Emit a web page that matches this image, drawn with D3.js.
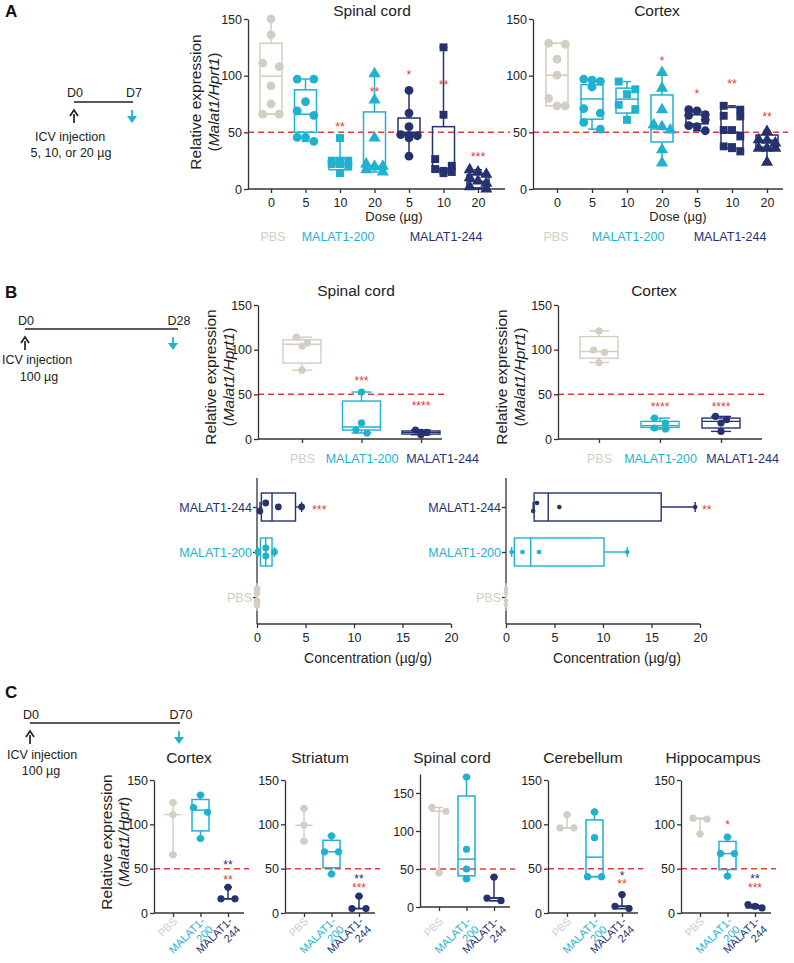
<!DOCTYPE html>
<html>
<head>
<meta charset="utf-8">
<script src="https://cdn.jsdelivr.net/npm/d3@7"></script>
<style>
  body { margin: 0; background: #fff; }
  svg { font-family: "Liberation Sans", Arial, sans-serif; }
</style>
</head>
<body>
<svg id="fig" width="794" height="963"></svg>
<script>
const C_PBS = '#d3cdc2';
const C_200 = '#1eb2cf';
const C_244 = '#263170';
const C_RED = '#e23d36';
const C_AX = '#333';
const FONT = '"Liberation Sans", Arial, sans-serif';

// ---- panel A: 7 days, dose response
const aGroups = ['PBS', 'MALAT1-200', 'MALAT1-200', 'MALAT1-200', 'MALAT1-244', 'MALAT1-244', 'MALAT1-244'];
const aDoses = ['0', '5', '10', '20', '5', '10', '20'];
const aShapes = ['circle', 'circle', 'square', 'triangle', 'circle', 'square', 'triangle'];

const aSpinalPts = [
  [150, 136, 111, 108, 91, 75, 66, 66],
  [97, 97, 77, 69, 65, 45.5, 45.5, 42],
  [45, 25, 25, 25, 22, 22, 20, 14],
  [101.6, 78.5, 45, 22, 20, 20, 17, 15],
  [87, 67, 55, 48, 47, 47, 45, 29],
  [125, 65.5, 26.4, 20.5, 17.6, 16, 15, 14],
  [17, 15, 13, 10, 7, 5, 2, 0],
];
const aSpinalBox = [
  [66, 66, 99.5, 128.6, 150],
  [42, 50, 66, 87.5, 97],
  [14, 17, 22, 27, 45],
  [15, 17, 20, 68, 101.6],
  [29, 49.4, 50, 62.6, 87],
  [14, 16, 18, 55, 125],
  [0, 1, 6.7, 12.6, 17],
];
const aSpinalStars = ['', '', '**', '**', '*', '**', '***'];
const aSpinalStarY = [0, 0, 58, 89, 104, 95, 31];

const aCortexPts = [
  [128.6, 127.7, 114.5, 100.4, 80, 73.4, 73.4],
  [97, 96, 95, 90, 71, 67, 58.7, 52.8],
  [94.8, 88, 83.7, 74.3, 70.5, 61],
  [102.7, 89, 70, 56.6, 55, 52, 34.6, 23],
  [70, 69, 65.5, 65, 61, 56, 55, 51.4],
  [73.4, 70, 64.6, 64, 52, 52, 46.4, 37.6, 37, 33.2],
  [50.8, 43.4, 43, 40.5, 36, 36, 36, 23.5],
];
const aCortexBox = [
  [73.4, 73.4, 100.4, 128.6, 128.6],
  [52.8, 61.6, 79.5, 92, 97],
  [61, 67, 79.3, 89, 94.8],
  [23, 41.5, 53, 83, 102.7],
  [51.4, 57.5, 65.5, 68, 70],
  [33.2, 36, 50, 72, 73.4],
  [23.5, 37, 43, 47.6, 50.8],
];
const aCortexStars = ['', '', '', '*', '*', '**', '**'];
const aCortexStarY = [0, 0, 0, 116, 87, 96, 67];

// ---- panel B: 28 days, 100 ug
const bGroups = ['PBS', 'MALAT1-200', 'MALAT1-244'];
const bSpinalPts = [[114, 107.5, 104, 77], [52.6, 18, 10, 6.7], [10, 7.4, 7.4, 4.8]];
const bSpinalBox = [[77, 85, 106, 111, 114], [6.7, 10, 13.4, 42.5, 52.6], [4.8, 5.5, 7.4, 9, 10]];
const bSpinalStars = ['', '***', '****'];
const bSpinalStarY = [0, 69, 41];
const bCortexPts = [[121, 99.6, 97, 85.6], [23.4, 17.8, 12.3, 11.2], [25.3, 21.6, 17.8, 8.5]];
const bCortexBox = [[85.6, 90.4, 97.9, 114.6, 121], [11.2, 13, 15, 19.7, 23.4], [8.5, 12.3, 19.7, 23.4, 25.3]];
const bCortexStars = ['', '****', '****'];
const bCortexStarY = [0, 39, 39];

const concCats = ['MALAT1-244', 'MALAT1-200', 'PBS'];
const concTicks = [0, 5, 10, 15, 20];
const concSpinalPts = [[0.3, 0.9, 2.2, 4.6], [0.1, 0.9, 0.9, 1.8], [0, 0, 0, 0]];
const concSpinalBox = [[0.3, 0.45, 1.55, 3.97, 4.6], [0.1, 0.35, 0.9, 1.55, 1.8], [0, 0, 0, 0, 0]];
const concCortexPts = [[2.8, 3.2, 5.5, 19.5], [0.58, 1.7, 3.4, 12.5], [0, 0, 0, 0]];
const concCortexBox = [[2.8, 2.9, 4.35, 16, 19.5], [0.58, 0.86, 2.55, 10.1, 12.5], [0, 0, 0, 0, 0]];
const concStars = ['***', '**'];

// ---- panel C: 70 days, 100 ug
const cRegions = ['Cortex', 'Striatum', 'Spinal cord', 'Cerebellum', 'Hippocampus'];
const cYMax = [150, 150, 175, 150, 150];
const cPts = [
  [[124.5, 111, 65.6], [133, 119, 113.6, 84], [29, 16, 16]],
  [[118, 99, 81], [87, 69, 69, 44], [19, 5, 5]],
  [[131, 126, 45], [171, 76, 50, 37], [39.5, 11.8, 8.3]],
  [[111, 96, 96], [114, 85, 41, 41], [20.8, 7.6, 5]],
  [[107, 106, 89], [85.6, 67, 67, 41.7], [9.5, 7.6, 5.7]],
];
const cBox = [
  [[65.6, 111, 111, 111, 124.5], [84, 92.6, 116, 128, 133], [16, 16, 16, 16, 29]],
  [[81, 99, 99, 99, 118], [44, 51, 69, 82, 87], [5, 5, 5, 5, 19]],
  [[45, 126, 126, 126, 131], [37, 41, 63, 146, 171], [8.3, 8.3, 11.8, 11.8, 39.5]],
  [[96, 96, 96, 96, 111], [41, 41, 63, 105, 114], [5, 5, 7.6, 7.6, 20.8]],
  [[89, 106, 106, 106, 107], [41.7, 49, 67, 80.7, 85.6], [5.7, 5.7, 7.6, 7.6, 9.5]],
];
// [region, group, [text, value, colour] ...] - stacked marks share one label
const cStars = [
  [0, 2, [['**', 57.5, 'navy'], ['**', 40.6, 'red']]],
  [1, 2, [['**', 41.7, 'navy'], ['***', 31.6, 'red']]],
  [3, 2, [['*', 45, 'navy'], ['**', 36, 'red']]],
  [4, 1, [['*', 102.6, 'red']]],
  [4, 2, [['**', 41.7, 'navy'], ['***', 31.6, 'red']]],
];

const colorOf = g => g === 'PBS' ? C_PBS : g === 'MALAT1-200' ? C_200 : C_244;

const svg = d3.select('#fig');

function txt(g, x, y, s, o = {}) {
  const t = g.append('text').attr('x', x).attr('y', y).text(s)
    .attr('font-size', o.size || 12.5)
    .attr('fill', o.fill || '#222')
    .attr('text-anchor', o.anchor || 'middle');
  if (o.weight) t.attr('font-weight', o.weight);
  return t;
}

function yLabel(x1, x2, cy, gene) {
  svg.append('text').attr('transform', `translate(${x1},${cy}) rotate(-90)`)
    .attr('text-anchor', 'middle').attr('font-size', 15.5).attr('fill', '#222')
    .text('Relative expression');
  const t = svg.append('text').attr('transform', `translate(${x2},${cy}) rotate(-90)`)
    .attr('text-anchor', 'middle').attr('font-size', 15.5).attr('fill', '#222');
  t.append('tspan').text('(');
  t.append('tspan').attr('font-style', 'italic').text(gene);
  t.append('tspan').text(')');
}

function timeline(x0, x1, yLine, lbl0, lbl1, textY, cyanX, lines) {
  const g = svg.append('g');
  g.append('line').attr('x1', x0).attr('x2', x1).attr('y1', yLine).attr('y2', yLine)
    .attr('stroke', '#222').attr('stroke-width', 1.3);
  txt(g, x0 + 1, textY, lbl0);
  txt(g, x1 + 1, textY, lbl1);
  // injection arrow (up) and harvest arrow (down)
  const ay0 = yLine + 8, ay1 = yLine + 21;
  g.append('line').attr('x1', x0).attr('x2', x0).attr('y1', ay1).attr('y2', ay0 + 4)
    .attr('stroke', '#222').attr('stroke-width', 1.7);
  g.append('path').attr('d', `M${x0 - 4},${ay0 + 6}L${x0},${ay0}L${x0 + 4},${ay0 + 6}`)
    .attr('fill', 'none').attr('stroke', '#222').attr('stroke-width', 1.7);
  g.append('line').attr('x1', cyanX).attr('x2', cyanX).attr('y1', ay0).attr('y2', ay1 - 5)
    .attr('stroke', C_200).attr('stroke-width', 1.8);
  g.append('path').attr('d', `M${cyanX - 5},${ay1 - 7}L${cyanX},${ay1}L${cyanX + 5},${ay1 - 7}Z`)
    .attr('fill', C_200);
  lines.forEach(l => txt(g, l[0], l[1], l[2]));
}

function swarm(vals, sc, r, step, maxRow) {
  const idx = vals.map((v, i) => i).sort((a, b) => vals[b] - vals[a]);
  const offs = new Array(vals.length).fill(0);
  let row = [];
  const flush = () => {
    const n = row.length;
    row.forEach((i, j) => {
      let k;
      if (n % 2) k = j - (n - 1) / 2;
      else { const h = n / 2; k = j < h ? j - h : j - h + 1; }
      offs[i] = k * step;
    });
    row = [];
  };
  idx.forEach(i => {
    if (row.length && (row.length >= maxRow || Math.abs(sc(vals[i]) - sc(vals[row[0]])) > r * 1.8)) flush();
    row.push(i);
  });
  flush();
  return offs;
}

function symbolPath(shape, r) {
  if (shape === 'square') return d3.symbol(d3.symbolSquare, (1.8 * r) ** 2)();
  if (shape === 'triangle') return d3.symbol(d3.symbolTriangle, Math.PI * r * r * 1.05)();
  return d3.symbol(d3.symbolCircle, Math.PI * r * r)();
}

function drawGroup(g, o) {
  const P = (a, v) => o.horiz ? [o.sc(v), a] : [a, o.sc(v)];
  const [mn, q1, md, q3, mx] = o.box;
  const line = (a1, v1, a2, v2) => {
    const [x1, y1] = P(a1, v1), [x2, y2] = P(a2, v2);
    g.append('line').attr('x1', x1).attr('y1', y1).attr('x2', x2).attr('y2', y2)
      .attr('stroke', o.color).attr('stroke-width', o.lw);
  };
  line(o.pos, mx, o.pos, q3);
  line(o.pos, q1, o.pos, mn);
  line(o.pos - o.capW / 2, mx, o.pos + o.capW / 2, mx);
  line(o.pos - o.capW / 2, mn, o.pos + o.capW / 2, mn);
  if (q3 > q1) {
    const a = o.horiz
      ? { x: o.sc(q1), y: o.pos - o.w / 2, width: o.sc(q3) - o.sc(q1), height: o.w }
      : { x: o.pos - o.w / 2, y: o.sc(q3), width: o.w, height: o.sc(q1) - o.sc(q3) };
    g.append('rect').attr('x', a.x).attr('y', a.y).attr('width', a.width).attr('height', a.height)
      .attr('fill', 'none').attr('stroke', o.color).attr('stroke-width', o.lw);
  }
  line(o.pos - o.w / 2, md, o.pos + o.w / 2, md);
  const offs = swarm(o.pts, o.sc, o.r, o.step, o.maxRow);
  o.pts.forEach((v, i) => {
    const [px, py] = P(o.pos + offs[i], v);
    g.append('path').attr('d', symbolPath(o.shape, o.r))
      .attr('transform', `translate(${px},${py})`).attr('fill', o.color);
  });
}

function styleAxis(s) {
  s.attr('font-family', FONT).attr('font-size', 12.5);
  s.selectAll('text').attr('fill', '#222');
  s.selectAll('line,path').attr('stroke', C_AX).attr('stroke-width', 1.3);
}

function star(g, x, yPix, s, color, size = 12.5) {
  txt(g, x, yPix + size * 0.6, s, { fill: color, size });
}

// vertical box chart frame
function vChart(o) {
  const g = svg.append('g');
  const y = d3.scaleLinear().domain([0, o.yMax]).range([o.yZero, o.yZero - o.yMax * o.pxPer]);
  const x = d3.scalePoint().domain(d3.range(o.n)).range([o.xFirst, o.xLast]);
  g.append('line').attr('x1', o.axX).attr('x2', o.xEnd + 5).attr('y1', y(50)).attr('y2', y(50))
    .attr('stroke', C_RED).attr('stroke-width', 1.5).attr('stroke-dasharray', '6,4');
  g.append('g').attr('transform', `translate(${o.axX},0)`)
    .call(d3.axisLeft(y).tickValues([0, 50, 100, 150]).tickSize(4).tickSizeOuter(0).tickPadding(2))
    .call(styleAxis);
  const xa = g.append('g').attr('transform', `translate(0,${o.yZero})`)
    .call(d3.axisBottom(x).tickSize(4).tickPadding(o.tickPad || 5)
      .tickFormat(o.labels ? (i => o.labels[i]) : ''))
    .call(styleAxis);
  xa.select('.domain').remove();
  g.append('line').attr('x1', o.axX).attr('x2', o.xEnd).attr('y1', o.yZero).attr('y2', o.yZero)
    .attr('stroke', C_AX).attr('stroke-width', 1.3);
  if (o.labelColors) xa.selectAll('.tick text').attr('fill', (d, i) => o.labelColors[i]);
  return { g, x, y, xa };
}

// ---------- Panel A ----------
txt(svg, 5, 17, 'A', { anchor: 'start', size: 17, weight: 'bold', fill: '#111' });
timeline(74, 133, 102, 'D0', 'D7', 97, 132,
  [[70, 141, 'ICV injection'], [71, 157, '5, 10, or 20 \u00b5g']]);
yLabel(201, 219, 102, 'Malat1/Hprt1');

function panelA(axX, xFirst, xLast, xEnd, title, titleX, pts, box, stars, starY, legendX, doseX) {
  const c = vChart({ axX, xFirst, xLast, xEnd, yZero: 189, pxPer: 170 / 150, yMax: 150, n: 7, labels: aDoses });
  txt(svg, titleX, 16, title, { size: 15.5 });
  pts.forEach((p, i) => drawGroup(c.g, {
    pos: c.x(i), sc: c.y, box: box[i], pts: p, color: colorOf(aGroups[i]), shape: aShapes[i],
    r: 4.4, w: 22, capW: 8, lw: 1.5, step: 8.3, maxRow: 3,
  }));
  stars.forEach((s, i) => { if (s) star(c.g, c.x(i), c.y(starY[i]), s, C_RED); });
  txt(svg, doseX, 221, 'Dose (\u00b5g)', { size: 13 });
  bGroups.forEach((gname, i) => txt(svg, legendX[i], 241, gname, { fill: colorOf(gname), size: 12.5 }));
}
panelA(248, 271, 478, 505, 'Spinal cord', 372, aSpinalPts, aSpinalBox, aSpinalStars, aSpinalStarY, [273, 338, 446], 394);
panelA(533, 557, 767, 783, 'Cortex', 657, aCortexPts, aCortexBox, aCortexStars, aCortexStarY, [556, 628, 730], 678);

// ---------- Panel B ----------
txt(svg, 5, 298, 'B', { anchor: 'start', size: 17, weight: 'bold', fill: '#111' });
timeline(25, 178, 329, 'D0', 'D28', 325, 173,
  [[37, 364, 'ICV injection'], [39, 381, '100 \u00b5g']]);
yLabel(216, 234, 377, 'Malat1/Hprt1');
yLabel(507, 525, 377, 'Malat1/Hprt1');

function panelBTop(axX, xFirst, xLast, xEnd, title, titleX, pts, box, stars, starY) {
  const c = vChart({ axX, xFirst, xLast, xEnd, yZero: 439, pxPer: 134 / 150, yMax: 150, n: 3,
    labels: bGroups, labelColors: bGroups.map(colorOf), tickPad: 11 });
  // last label sits right of its tick, as in the source layout
  c.xa.selectAll('.tick text').attr('dx', (d, i) => i === 2 ? 21 : 0);
  txt(svg, titleX, 296, title, { size: 15.5 });
  pts.forEach((p, i) => drawGroup(c.g, {
    pos: c.x(i), sc: c.y, box: box[i], pts: p, color: colorOf(bGroups[i]), shape: 'circle',
    r: 3.6, w: 38, capW: 20, lw: 1.4, step: 5.5, maxRow: 3,
  }));
  stars.forEach((s, i) => { if (s) star(c.g, c.x(i), c.y(starY[i]), s, C_RED, 12); });
}
panelBTop(258, 302, 421, 442, 'Spinal cord', 356, bSpinalPts, bSpinalBox, bSpinalStars, bSpinalStarY);
panelBTop(558, 599, 721, 762, 'Cortex', 654, bCortexPts, bCortexBox, bCortexStars, bCortexStarY);

function panelBConc(x0, x1, pts, box, starTxt, starX, r) {
  const g = svg.append('g');
  const xs = d3.scaleLinear().domain([0, 20]).range([x0, x1]);
  const ys = d3.scalePoint().domain(concCats).range([507, 597]);
  const xa = g.append('g').attr('transform', 'translate(0,624)')
    .call(d3.axisBottom(xs).tickValues(concTicks).tickSize(4).tickSizeOuter(0).tickPadding(5))
    .call(styleAxis);
  xa.select('.domain').remove();
  g.append('line').attr('x1', x0).attr('x2', x1).attr('y1', 624).attr('y2', 624)
    .attr('stroke', C_AX).attr('stroke-width', 1.3);
  const ya = g.append('g').attr('transform', `translate(${x0},0)`)
    .call(d3.axisLeft(ys).tickSize(4).tickPadding(1))
    .call(styleAxis);
  ya.select('.domain').remove();
  ya.selectAll('.tick text').attr('fill', d => colorOf(d));
  g.append('line').attr('x1', x0).attr('x2', x0).attr('y1', 478).attr('y2', 624)
    .attr('stroke', C_AX).attr('stroke-width', 1.3);
  pts.forEach((p, i) => drawGroup(g, {
    pos: ys(concCats[i]), sc: xs, box: box[i], pts: p, color: colorOf(concCats[i]), shape: 'circle',
    r, w: 28, capW: 10, lw: 1.4, step: 4, maxRow: 4, horiz: true,
  }));
  txt(g, starX, ys(concCats[0]) + 7, starTxt, { fill: C_RED, anchor: 'start', size: 12.5 });
  txt(svg, (x0 + x1) / 2 + 14, 663, 'Concentration (\u00b5g/g)', { size: 14 });
}
panelBConc(257, 451, concSpinalPts, concSpinalBox, concStars[0], 312, 3.4);
panelBConc(506, 700, concCortexPts, concCortexBox, concStars[1], 702, 2.3);

// ---------- Panel C ----------
txt(svg, 5, 698, 'C', { anchor: 'start', size: 17, weight: 'bold', fill: '#111' });
timeline(30, 180, 723, 'D0', 'D70', 719, 179,
  [[42, 759, 'ICV injection'], [41, 775, '100 \u00b5g']]);
yLabel(112, 129, 842, 'Malat1/Hprt');

const cAxX = [154, 285, 420, 548, 681];
const cTitleX = [189, 320, 452, 583, 713];
const cLabels = [['PBS'], ['MALAT1-', '200'], ['MALAT1-', '244']];

cRegions.forEach((reg, k) => {
  const tall = cYMax[k] > 150;
  const yZero = tall ? 907 : 913;
  const pxPer = tall ? 114 / 150 : 133 / 150;
  const c = vChart({ axX: cAxX[k], xFirst: cAxX[k] + 19, xLast: cAxX[k] + 74, xEnd: cAxX[k] + 90,
    yZero, pxPer, yMax: cYMax[k], n: 3 });
  txt(svg, cTitleX[k], 763, reg, { size: 15.5 });
  cPts[k].forEach((p, i) => drawGroup(c.g, {
    pos: c.x(i), sc: c.y, box: cBox[k][i], pts: p, color: colorOf(bGroups[i]), shape: 'circle',
    r: 3.6, w: 17, capW: 8, lw: 1.5, step: 7, maxRow: 3,
  }));
  cLabels.forEach((lab, i) => {
    const t = c.g.append('text')
      .attr('transform', `translate(${c.x(i) + 5},${913 + 9}) rotate(-45)`)
      .attr('text-anchor', 'end').attr('font-size', 11).attr('fill', colorOf(bGroups[i]));
    lab.forEach((s, j) => t.append('tspan').attr('x', 0).attr('dy', j ? '1.05em' : 0).text(s));
  });
  cStars.filter(s => s[0] === k).forEach(s => {
    const fs = 12;
    const t = c.g.append('text').attr('text-anchor', 'middle').attr('font-size', fs);
    let prev = null;
    s[2].forEach(m => {
      const yy = c.y(m[1]) + fs * 0.6;
      const sp = t.append('tspan').attr('x', c.x(s[1])).text(m[0])
        .attr('fill', m[2] === 'red' ? C_RED : C_244);
      if (prev === null) sp.attr('y', yy); else sp.attr('dy', yy - prev);
      prev = yy;
    });
  });
});
</script>
</body>
</html>
